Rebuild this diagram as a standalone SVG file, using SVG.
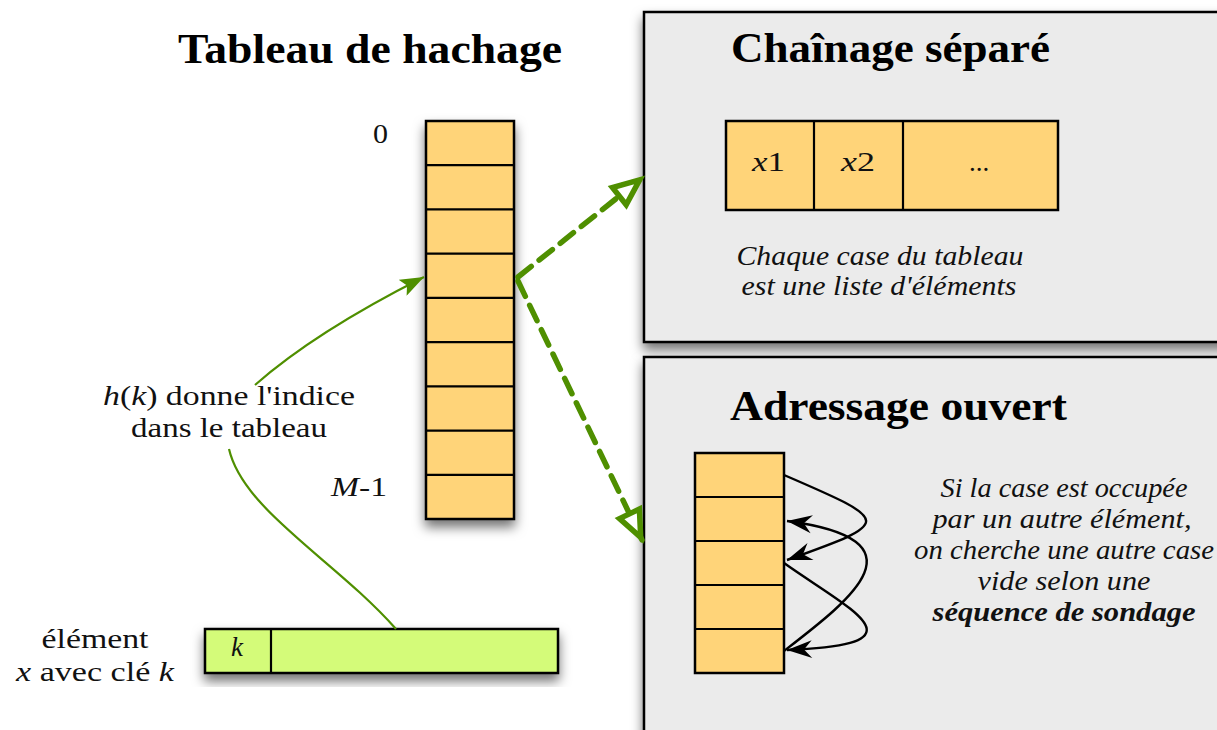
<svg xmlns="http://www.w3.org/2000/svg" width="1217" height="730" viewBox="0 0 1217 730">
  <style>
    text { font-family: 'Liberation Serif', 'Times New Roman', Times, serif; }
    .title { font-weight: bold; font-size: 42px; fill: #000; }
    .lbl { font-size: 27px; fill: #111; }
    .it { font-style: italic; }
    .panel { fill: #ebebeb; stroke: #000; stroke-width: 2.5; }
    .cell { fill: #ffd479; stroke: #000; stroke-width: 2.5; }
    .sep { stroke: #000; stroke-width: 2.2; }
    .elem { fill: #d4fb79; stroke: #000; stroke-width: 2.5; }
    .thin { fill: none; stroke: #4f8f00; stroke-width: 2.2; }
    .dash { fill: none; stroke: #4f8f00; stroke-width: 5.5; stroke-dasharray: 17 10; stroke-linecap: round; }
    .probe { fill: none; stroke: #000; stroke-width: 2.4; }
  </style>
  <defs>
    <filter id="shadow" x="-30%" y="-30%" width="160%" height="160%">
      <feDropShadow dx="0" dy="7" stdDeviation="6" flood-color="#000" flood-opacity="0.55"/>
    </filter>
    <marker id="thinHead" viewBox="0 0 24 18" refX="24" refY="9" markerWidth="24" markerHeight="18" markerUnits="userSpaceOnUse" orient="auto">
      <path d="M0,0 L24,9 L0,18 L5,9 Z" fill="#4f8f00"/>
    </marker>
    <marker id="openHead" viewBox="-34 -18 40 36" refX="0" refY="0" markerWidth="40" markerHeight="36" markerUnits="userSpaceOnUse" orient="auto">
      <path d="M-3,0 L-29,-11 L-29,11 Z" fill="#fff" stroke="#4f8f00" stroke-width="5.5" stroke-linejoin="miter" stroke-dasharray="none"/>
    </marker>
    <marker id="probeHead" viewBox="-28 -12 30 24" refX="0" refY="0" markerWidth="30" markerHeight="24" markerUnits="userSpaceOnUse" orient="auto">
      <path d="M0,0 L-25,-9 L-17,0 L-25,9 Z" fill="#000"/>
    </marker>
  </defs>

  <rect width="1217" height="730" fill="#fff"/>

  <!-- Separate chaining panel -->
  <g id="panel-chaining">
    <rect class="panel" x="644" y="12" width="600" height="330" filter="url(#shadow)"/>
    <text class="title" x="731" y="62" textLength="319" lengthAdjust="spacingAndGlyphs">Chaînage séparé</text>
    <rect class="cell" x="726" y="121" width="332" height="89"/>
    <line class="sep" x1="814" y1="121" x2="814" y2="210"/>
    <line class="sep" x1="903" y1="121" x2="903" y2="210"/>
    <text class="lbl" x="752" y="171" textLength="33" lengthAdjust="spacingAndGlyphs"><tspan class="it">x</tspan>1</text>
    <text class="lbl" x="841" y="171" textLength="34" lengthAdjust="spacingAndGlyphs"><tspan class="it">x</tspan>2</text>
    <text class="lbl" x="979" y="171" text-anchor="middle">...</text>
    <text class="lbl it" x="880" y="265" text-anchor="middle" textLength="287" lengthAdjust="spacingAndGlyphs">Chaque case du tableau</text>
    <text class="lbl it" x="879" y="295" text-anchor="middle" textLength="275" lengthAdjust="spacingAndGlyphs">est une liste d'éléments</text>
  </g>

  <!-- Open addressing panel -->
  <g id="panel-open-addressing">
    <rect class="panel" x="644" y="357" width="600" height="420" filter="url(#shadow)"/>
    <text class="title" x="730" y="420" textLength="337" lengthAdjust="spacingAndGlyphs">Adressage ouvert</text>
    <rect class="cell" x="695" y="453" width="89" height="220"/>
    <line class="sep" x1="695" y1="497" x2="784" y2="497"/>
    <line class="sep" x1="695" y1="541" x2="784" y2="541"/>
    <line class="sep" x1="695" y1="585" x2="784" y2="585"/>
    <line class="sep" x1="695" y1="629" x2="784" y2="629"/>
    <text class="lbl it" x="1064" y="497" text-anchor="middle" textLength="247" lengthAdjust="spacingAndGlyphs">Si la case est occupée</text>
    <text class="lbl it" x="1062" y="528" text-anchor="middle" textLength="259" lengthAdjust="spacingAndGlyphs">par un autre élément,</text>
    <text class="lbl it" x="1064" y="559" text-anchor="middle" textLength="300" lengthAdjust="spacingAndGlyphs">on cherche une autre case</text>
    <text class="lbl it" x="1064" y="590" text-anchor="middle" textLength="173" lengthAdjust="spacingAndGlyphs">vide selon une</text>
    <text class="lbl it" x="1064" y="621" text-anchor="middle" font-weight="bold" textLength="263" lengthAdjust="spacingAndGlyphs">séquence de sondage</text>
  </g>

  <!-- Hash table -->
  <g id="hash-table">
    <text class="title" x="178" y="63" textLength="384" lengthAdjust="spacingAndGlyphs">Tableau de hachage</text>
    <rect class="cell" x="426" y="121" width="88" height="398" filter="url(#shadow)"/>
    <line class="sep" x1="426" y1="165.2" x2="514" y2="165.2"/>
    <line class="sep" x1="426" y1="209.4" x2="514" y2="209.4"/>
    <line class="sep" x1="426" y1="253.7" x2="514" y2="253.7"/>
    <line class="sep" x1="426" y1="297.9" x2="514" y2="297.9"/>
    <line class="sep" x1="426" y1="342.1" x2="514" y2="342.1"/>
    <line class="sep" x1="426" y1="386.3" x2="514" y2="386.3"/>
    <line class="sep" x1="426" y1="430.6" x2="514" y2="430.6"/>
    <line class="sep" x1="426" y1="474.8" x2="514" y2="474.8"/>
    <text class="lbl" x="373" y="143" textLength="15" lengthAdjust="spacingAndGlyphs">0</text>
    <text class="lbl" x="331" y="496" textLength="56" lengthAdjust="spacingAndGlyphs"><tspan class="it">M</tspan>-1</text>
  </g>

  <!-- Hash function label -->
  <g id="hash-label">
    <text class="lbl" x="229" y="405" text-anchor="middle" textLength="252" lengthAdjust="spacingAndGlyphs"><tspan class="it">h</tspan>(<tspan class="it">k</tspan>) donne l'indice</text>
    <text class="lbl" x="229" y="437" text-anchor="middle" textLength="196" lengthAdjust="spacingAndGlyphs">dans le tableau</text>
  </g>

  <!-- Element with key -->
  <g id="element">
    <rect class="elem" x="205" y="629" width="353" height="44" filter="url(#shadow)"/>
    <line class="sep" x1="271" y1="629" x2="271" y2="673"/>
    <text class="lbl it" x="237" y="656" text-anchor="middle">k</text>
    <text class="lbl" x="95" y="648" text-anchor="middle" textLength="107" lengthAdjust="spacingAndGlyphs">élément</text>
    <text class="lbl" x="95" y="681" text-anchor="middle" textLength="158" lengthAdjust="spacingAndGlyphs"><tspan class="it">x</tspan> avec clé <tspan class="it">k</tspan></text>
  </g>

  <!-- Connectors -->
  <g id="connectors">
    <path class="thin" d="M229,449 C243,510 335,560 396,629"/>
    <path class="thin" d="M255,385 Q315,332 424,277" marker-end="url(#thinHead)"/>
    <path class="dash" d="M518,277 L642,178" marker-end="url(#openHead)"/>
    <path class="dash" d="M518,281 L642,540" marker-end="url(#openHead)"/>
    <path class="probe" d="M784,475 C893,522 893,522 787,560" marker-end="url(#probeHead)"/>
    <path class="probe" d="M784,563 C850,610 930,645 787,650" marker-end="url(#probeHead)"/>
    <path class="probe" d="M784,651 C850,600 930,540 787,521" marker-end="url(#probeHead)"/>
  </g>
</svg>
